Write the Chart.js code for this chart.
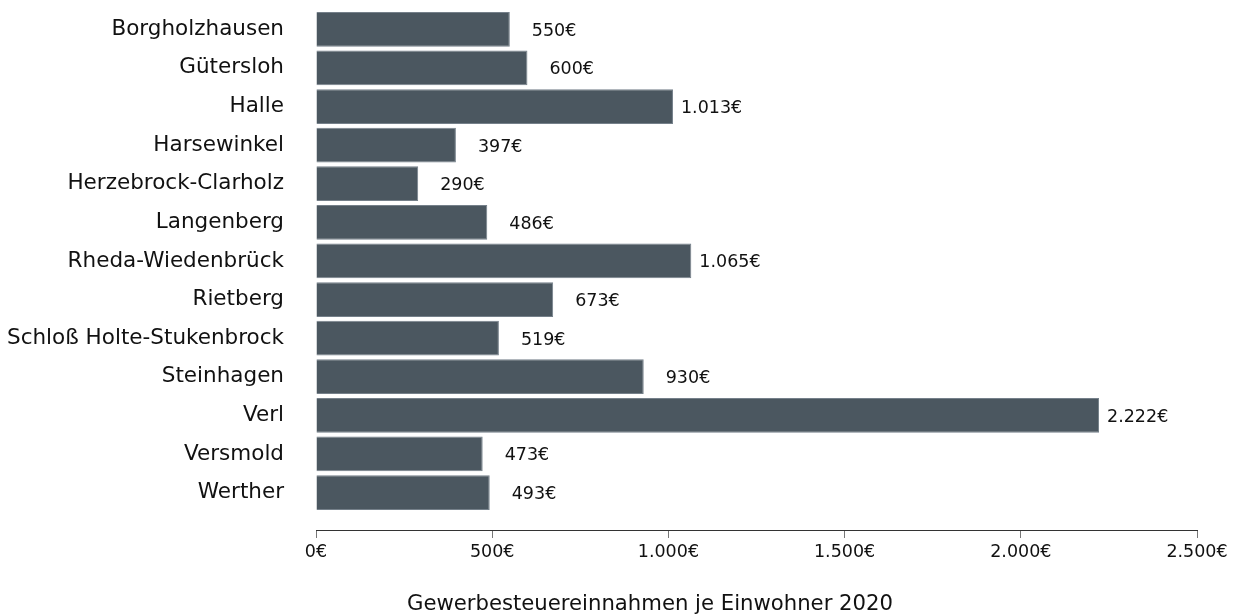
<!DOCTYPE html>
<html>
<head>
<meta charset="utf-8">
<script src="https://cdn.jsdelivr.net/npm/chart.js@4/dist/chart.umd.min.js"></script>
<style>
html,body{margin:0;padding:0;background:#fff;}
#wrap{width:1234px;height:616px;position:relative;}
</style>
</head>
<body>
<div id="wrap"><canvas id="c" width="1234" height="616"></canvas></div>
<script>
const categories = ["Borgholzhausen","Gütersloh","Halle","Harsewinkel","Herzebrock-Clarholz","Langenberg","Rheda-Wiedenbrück","Rietberg","Schloß Holte-Stukenbrock","Steinhagen","Verl","Versmold","Werther"];
const values = [550,600,1013,397,290,486,1065,673,519,930,2222,473,493];
const xTicks = [0,500,1000,1500,2000,2500];
const axisTitle = "Gewerbesteuereinnahmen je Einwohner 2020";

function fmt(v){
  const s = Math.round(v).toString();
  return s.replace(/\B(?=(\d{3})+(?!\d))/g, ".") + "€";
}

const FONT = "'DejaVu Sans', 'Liberation Sans', Arial, sans-serif";

const valueLabels = {
  id: 'valueLabels',
  afterDatasetsDraw(chart){
    const ctx = chart.ctx;
    const meta = chart.getDatasetMeta(0);
    ctx.save();
    ctx.font = "17.5px " + FONT;
    ctx.fillStyle = "#111";
    ctx.textAlign = "left";
    ctx.textBaseline = "middle";
    meta.data.forEach((bar, i) => {
      const v = values[i];
      const gap = v < 1000 ? 22 : 8;
      ctx.fillText(fmt(v), bar.x + gap, bar.y + 2);
    });
    ctx.restore();
  }
};

const xTitle = {
  id: 'xTitle',
  afterDraw(chart){
    const ctx = chart.ctx;
    ctx.save();
    ctx.font = "21.2px " + FONT;
    ctx.fillStyle = "#111";
    ctx.textAlign = "center";
    ctx.textBaseline = "middle";
    ctx.fillText(axisTitle, chart.width / 2 + 33, chart.scales.x.bottom - 12);
    ctx.restore();
  }
};

new Chart(document.getElementById('c'), {
  type: 'bar',
  data: {
    labels: categories,
    datasets: [{
      data: values,
      backgroundColor: '#4b5760',
      borderColor: '#75808a',
      borderWidth: 1,
      barPercentage: 0.9,
      categoryPercentage: 1.0
    }]
  },
  options: {
    indexAxis: 'y',
    responsive: false,
    animation: false,
    layout: { padding: { left: 2, right: 37, top: 10, bottom: 0 } },
    plugins: { legend: { display: false }, tooltip: { enabled: false } },
    scales: {
      y: {
        type: 'category',
        offset: true,
        grid: { display: false, drawTicks: false },
        border: { display: false },
        ticks: { color: '#111', font: { family: FONT, size: 21.5 }, padding: 32 },
        afterFit(s){ s.width = 314; s.paddingTop = 0; s.paddingBottom = 0; },
        afterBuildTicks(s){ s._valueRange = s._valueRange + 0.47; }
      },
      x: {
        type: 'linear',
        min: 0, max: 2500,
        afterBuildTicks(s){ s.ticks = xTicks.map(v => ({value: v})); },
        grid: { drawOnChartArea: false, drawTicks: true, tickLength: 8, color: '#777', tickWidth: 1 },
        border: { display: true, color: '#333', width: 1 },
        ticks: { color: '#111', font: { family: FONT, size: 17.5 }, padding: 4, maxRotation: 0, autoSkip: false,
          callback: v => fmt(v) },
        title: { display: false },
        afterFit(s){ s.height = 86; }
      }
    }
  },
  plugins: [valueLabels, xTitle]
});
</script>
</body>
</html>
